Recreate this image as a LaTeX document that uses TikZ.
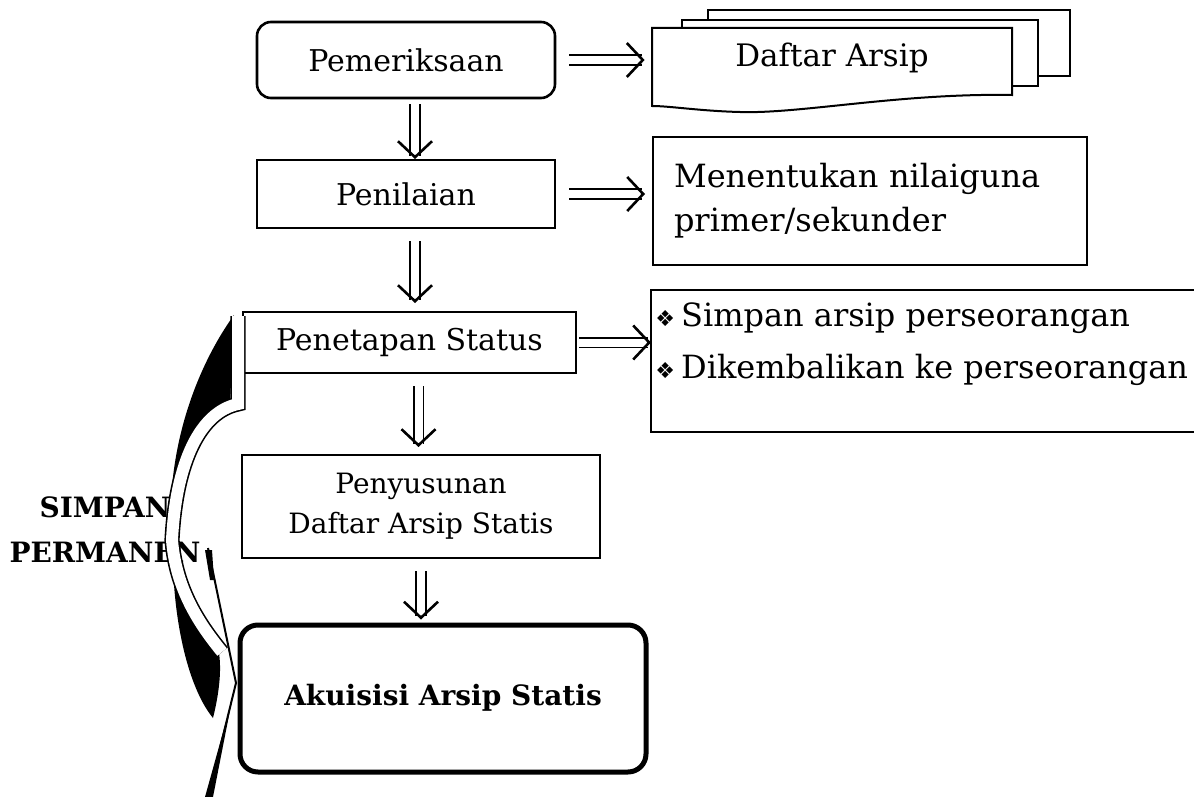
\documentclass[tikz,border=0pt]{standalone}
\usepackage{fontspec}
\setmainfont{DejaVu Serif}
\newfontfamily\symfont{DejaVu Sans}
\usetikzlibrary{arrows.meta}

\begin{document}
\begin{tikzpicture}[
            x=0.5pt, y=-0.5pt,
            every node/.style={align=center, inner sep=0pt},
            stepbox/.style={draw, line width=1pt, font=\fontsize{15}{20}\selectfont},
            sidetext/.style={align=left, font=\fontsize{16}{22}\selectfont},
            dblarrow/.style={double, double distance=4pt, line width=0.8pt, -{Straight Barb[length=8pt,width=17pt,line width=1.3pt]}}
            ]
            \useasboundingbox (0,0) rectangle (1194,797);

            % main column
            \node[stepbox, rounded corners=7pt, line width=1.3pt, minimum width=149pt, minimum height=38pt] (pem) at (406,60) {Pemeriksaan};
            \node[stepbox, minimum width=149pt, minimum height=34pt] (pen) at (406,194) {Penilaian};
            \node[stepbox, minimum width=166.5pt, minimum height=30.5pt] (pst) at (409.5,342.5) {Penetapan Status};
            \node[stepbox, font=\fontsize{14}{20}\selectfont, minimum width=179pt, minimum height=51.5pt] (pny) at (421,506.5) {Penyusunan\\Daftar Arsip Statis};
            \node[stepbox, rounded corners=9pt, line width=2.5pt, font=\bfseries\fontsize{14}{20}\selectfont, minimum width=203pt, minimum height=73.5pt] (aku) at (443,698.5) {\raisebox{4pt}{Akuisisi Arsip Statis}};

            \draw[dblarrow, shorten <=2.5pt] ([xshift=4.5pt]pem.south) -- ([xshift=4.5pt]pen.south |- pen.north);
            \draw[dblarrow, shorten <=6pt, shorten >=4pt] ([xshift=4.5pt]pen.south) -- ([xshift=4.5pt]pen.south |- pst.north);
            \draw[dblarrow, shorten <=6pt, shorten >=3.5pt] ([xshift=4.5pt]pst.south) -- ([xshift=4.5pt]pst.south |- pny.north);
            \draw[dblarrow, shorten <=6pt, shorten >=1.5pt] (pny.south) -- (pny.south |- aku.north);

            % daftar arsip pages
            \draw[line width=1pt, fill=white] (708,10) rectangle (1070,76);
            \draw[line width=1pt, fill=white] (682,20) rectangle (1038,86);
            \draw[line width=1pt, fill=white] (652,28) -- (1012,28) -- (1012,95) .. controls (900,93) and (800,114) .. (740,112) .. controls (700,111) and (670,106) .. (652,106) -- cycle;
            \node[sidetext, font=\fontsize{15.5}{20}\selectfont, minimum width=180pt] (daf) at (832,58) {Daftar Arsip};

            \node[draw, line width=1pt, sidetext, anchor=north west, text width=196pt, inner xsep=10.5pt, minimum height=64pt] (mnt) at (652,136) {Menentukan nilaiguna\\primer/sekunder};

            \coordinate (simtl) at (651,290);
            \draw[line width=1pt] (1200,290) -- (simtl) -- (651,432) -- (1200,432);
            \node[sidetext, font=\fontsize{16}{26}\selectfont, anchor=west] (sim) at (655,344)
                {{\symfont\fontsize{11}{11}\selectfont ❖}\hspace{3pt}Simpan arsip perseorangan\\
                 {\symfont\fontsize{11}{11}\selectfont ❖}\hspace{3pt}Dikembalikan ke perseorangan};

            \draw[dblarrow, shorten <=6.5pt, shorten >=3.5pt] (pem.east) -- (pem.east -| daf.west);
            \draw[dblarrow, shorten <=6.5pt, shorten >=3.5pt] (pen.east) -- (pen.east -| mnt.west);
            \draw[dblarrow, shorten <=1pt] (pst.east) -- (pst.east -| simtl);

            % simpan permanen brace
            \node[font=\bfseries\fontsize{14}{22.5}\selectfont] (lbl) at (105,530) {SIMPAN\\PERMANEN};
            \fill (234,315) .. controls (198,365) and (173,435) .. (171,505) .. controls (178,455) and (200,415) .. (230,405) -- cycle;
            \fill (173,565) .. controls (175,630) and (190,690) .. (213,718) .. controls (220,690) and (222,665) .. (218,648) .. controls (200,625) and (182,600) .. (173,565) -- cycle;
            \draw[line width=0.8pt, double=white, double distance=6pt] (238,316) -- (238,404) .. controls (200,412) and (176,462) .. (172,540) .. controls (176,590) and (200,625) .. (222,652);
            \draw[line width=1pt] (208,548) -- (236,683) -- (208,797);
            \fill (205,550) -- (212,550) -- (214,580) -- (210,580) -- cycle;
            \fill (232,700) -- (213,797) -- (205,797) -- cycle;
        \end{tikzpicture}
\end{document}
